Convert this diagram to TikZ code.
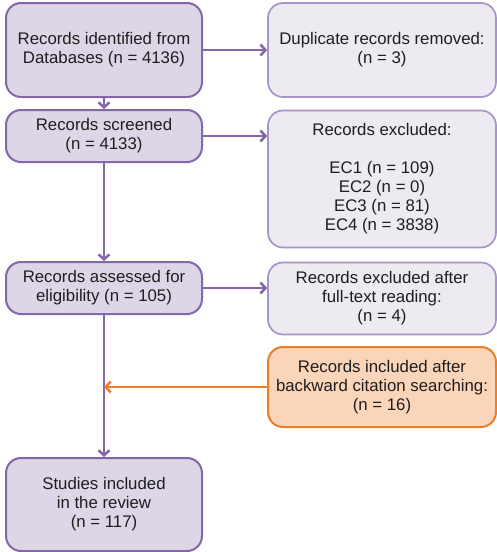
\documentclass[tikz,border=0pt]{standalone}
\usepackage{fontspec}
\setmainfont{Liberation Sans}
\usetikzlibrary{arrows.meta}
\definecolor{lilaF}{HTML}{DDD6E6}
\definecolor{lilaB}{HTML}{8467A9}
\definecolor{lilaClaro}{HTML}{EDEAF2}
\definecolor{lilaBC}{HTML}{A894C8}
\definecolor{naranjaF}{HTML}{FBD5BA}
\definecolor{naranjaB}{HTML}{EE7D27}
\definecolor{textoT}{HTML}{1E1E1E}

\begin{document}
\begin{tikzpicture}[x=1pt,y=-1pt,
    every node/.style={align=center,text=textoT,font=\fontsize{16.8}{19}\selectfont},
    caja/.style={draw=lilaB,fill=lilaF,line width=2pt,rounded corners=15pt,
      minimum width=196pt,inner sep=0pt},
    cajaD/.style={draw=lilaBC,fill=lilaClaro,line width=1.7pt,rounded corners=15pt,
      minimum width=228pt,inner sep=0pt},
    cajaN/.style={draw=naranjaB,fill=naranjaF,line width=2pt,rounded corners=15pt,
      minimum width=228pt,inner sep=0pt},
    flecha/.style={draw=lilaB,line width=2.5pt,-{Straight Barb[length=5pt,width=11pt]}},
    flechaN/.style={draw=naranjaB,line width=2.5pt,-{Straight Barb[length=5pt,width=11pt]}}]
    \useasboundingbox (0,0) rectangle (497,552);
    % columna izquierda
    \node[caja,minimum height=94pt] (ident) at (104,50) {Records identified from\\Databases (n = 4136)};
    \node[caja,minimum height=52pt] (screen) at (104,136) {Records screened\\(n = 4133)};
    \node[caja,minimum height=52pt] (assess) at (104,288) {Records assessed for\\eligibility (n = 105)};
    \node[caja,minimum height=93pt] (incl) at (104,504.5) {Studies included\\in the review\\(n = 117)};
    % columna derecha
    \node[cajaD,minimum height=94pt] (dup) at (382,50) {Duplicate records removed:\\(n = 3)};
    \node[cajaD,minimum height=137pt] (excl) at (382,179)
      {Records excluded:\\[19pt]EC1 (n = 109)\\EC2 (n = 0)\\EC3 (n = 81)\\EC4 (n = 3838)};
    \node[cajaD,minimum height=72pt] (ftx) at (382,298.5)
      {Records excluded after\\full-text reading:\\(n = 4)};
    \node[cajaN,minimum height=80pt] (back) at (382,387)
      {Records included after\\backward citation searching:\\(n = 16)};
    % flechas
    \draw[flecha] (ident) -- (screen);
    \draw[flecha] (screen) -- (assess);
    \draw[flecha] (assess) -- (incl);
    \draw[flecha] (ident.east) -- (ident.east -| dup.west);
    \draw[flecha] (screen.east) -- (screen.east -| excl.west);
    \draw[flecha] (assess.east) -- (assess.east -| ftx.west);
    \draw[flechaN] (back.west) -- (back.west -| incl.north);
\end{tikzpicture}
\end{document}
